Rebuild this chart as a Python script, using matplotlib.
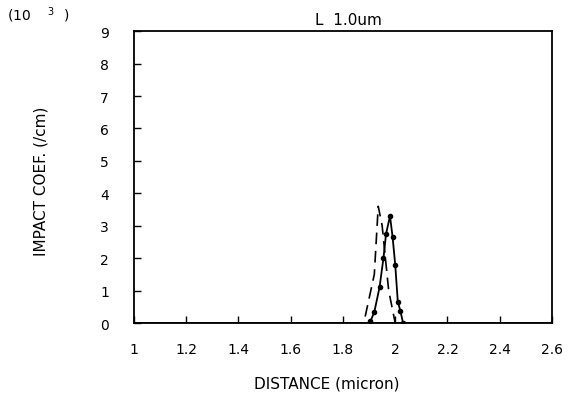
import matplotlib
matplotlib.use("Agg")
import matplotlib.pyplot as plt

# curva con puntos (coeficiente de impacto)
x_dots = [1.905, 1.92, 1.94, 1.955, 1.965, 1.98, 1.99, 2.0, 2.01, 2.02, 2.03]
y_dots = [0.05, 0.34, 1.1, 2.0, 2.75, 3.3, 2.65, 1.8, 0.65, 0.37, 0.0]

# curva a trazos
x_dash = [1.885, 1.92, 1.935, 1.95, 1.975, 2.0]
y_dash = [0.2, 1.5, 3.6, 3.0, 1.0, 0.0]

# linea base
x_base = [1.0, 2.6]
y_base = [0.0, 0.0]

x_ticks = [1, 1.2, 1.4, 1.6, 1.8, 2, 2.2, 2.4, 2.6]
x_labels = ['1', '1.2', '1.4', '1.6', '1.8', '2', '2.2', '2.4', '2.6']
y_ticks = [0, 1, 2, 3, 4, 5, 6, 7, 8, 9]
y_labels = ['0', '1', '2', '3', '4', '5', '6', '7', '8', '9']

plt.rcParams['font.family'] = ['DejaVu Sans']

fig = plt.figure(figsize=(5.81, 4.02), dpi=100)
ax = fig.add_axes([0.2306, 0.194, 0.7194, 0.726])

ax.plot(x_base, y_base, color='black', lw=1.3)
ax.plot(x_dots, y_dots, '-', color='black', lw=1.3, marker='o', markersize=3)
ax.plot(x_dash, y_dash, '--', color='black', lw=1.2, dashes=(7, 4))

ax.set_xlim(1, 2.6)
ax.set_ylim(0, 9)
ax.set_xticks(x_ticks)
ax.set_xticklabels(x_labels)
ax.set_yticks(y_ticks)
ax.set_yticklabels(y_labels)
ax.tick_params(direction='in', length=5, width=1, labelsize=10, pad=14)
ax.tick_params(axis='y', pad=18)
for s in ax.spines.values():
    s.set_linewidth(1.3)

fig.text(0.60, 0.95, 'L  1.0um', ha='center', va='center', fontsize=11)
fig.text(0.563, 0.045, 'DISTANCE (micron)', ha='center', va='center', fontsize=11)
fig.text(0.07, 0.55, 'IMPACT COEF. (/cm)', ha='center', va='center',
         rotation=90, fontsize=11)
fig.text(0.012, 0.962, '(10    $^{3}$  )', ha='left', va='center', fontsize=10)

fig.savefig('out.png', dpi=100)
